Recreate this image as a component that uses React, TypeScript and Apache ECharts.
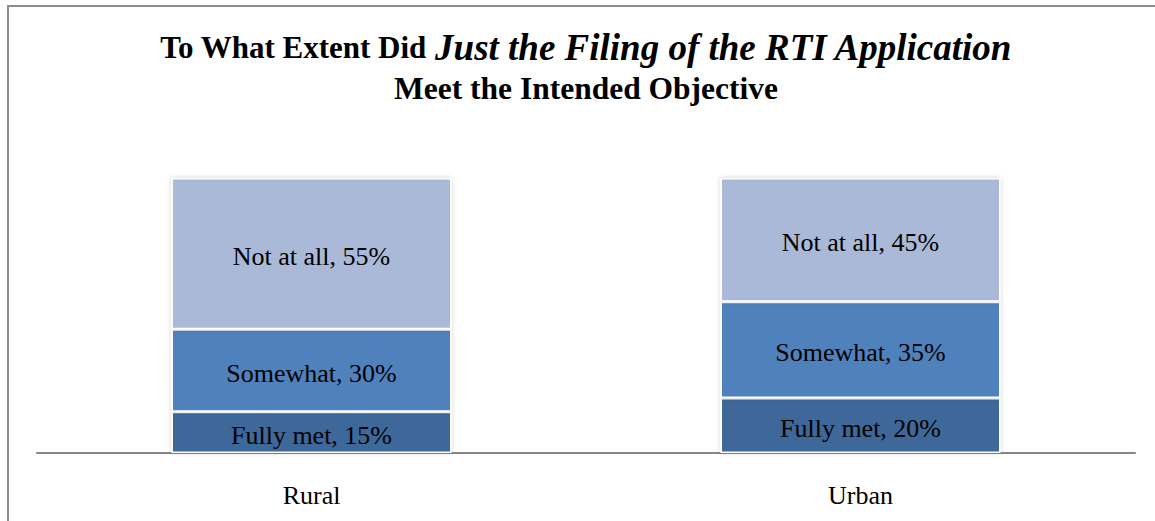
import React, { useEffect, useRef } from "react";
import * as echarts from "echarts";

const categories = ["Rural", "Urban"];
const seriesNames = ["Fully met", "Somewhat", "Not at all"];
const fullyMet = [15, 20];
const somewhat = [30, 35];
const notAtAll = [55, 45];
const seriesColors = ["#3E6899", "#4F81BD", "#AAB9D7"];

const SERIF = "'Times New Roman', 'Liberation Serif', serif";

export default function App() {
  const ref = useRef<HTMLDivElement>(null);
  useEffect(() => {
    if (!ref.current) return;
    const chart = echarts.init(ref.current, undefined, { renderer: "svg" });
    const values = [fullyMet, somewhat, notAtAll];
    chart.setOption({
      animation: false,
      backgroundColor: "#ffffff",
      grid: { left: 37, right: 20, top: 178, bottom: 68 },
      xAxis: {
        type: "category",
        data: categories,
        axisLine: { show: true, lineStyle: { color: "#868686", width: 2 } },
        axisTick: { show: false },
        axisLabel: {
          color: "#000",
          fontFamily: SERIF,
          fontSize: 26,
          margin: 29,
        },
      },
      yAxis: { type: "value", min: 0, max: 100, show: false },
      graphic: [
        {
          type: "line",
          shape: { x1: 8, y1: 6, x2: 1160, y2: 6 },
          style: { stroke: "#8c8c8c", lineWidth: 2 },
        },
        {
          type: "line",
          shape: { x1: 8, y1: 5, x2: 8, y2: 530 },
          style: { stroke: "#8c8c8c", lineWidth: 2 },
        },
        {
          type: "text",
          x: 586,
          y: 66,
          style: {
            text: "{a|To What Extent Did }{b|Just the Filing of the RTI Application}",
            align: "center",
            verticalAlign: "bottom",
            rich: {
              a: { fontFamily: SERIF, fontWeight: "bold", fontSize: 31, fill: "#000", color: "#000" },
              b: { fontFamily: SERIF, fontWeight: "bold", fontStyle: "italic", fontSize: 37, fill: "#000", color: "#000" },
            },
          },
        },
        {
          type: "text",
          x: 586,
          y: 88,
          style: {
            text: "Meet the Intended Objective",
            align: "center",
            verticalAlign: "middle",
            font: "bold 31.5px " + SERIF,
            fill: "#000",
          },
        },
      ],
      series: seriesNames.map((name, i) => ({
        name,
        type: "bar",
        stack: "total",
        barWidth: 280,
        data: values[i],
        itemStyle: {
          color: seriesColors[i],
          borderColor: "#ffffff",
          borderWidth: 1.5,
          shadowColor: "rgba(0,0,0,0.18)",
          shadowBlur: 5,
        },
        label: {
          show: true,
          position: "inside",
          formatter: "{a}, {c}%",
          color: "#000",
          fontFamily: SERIF,
          fontSize: 26,
          offset: [0, 3],
        },
      })),
    });
    return () => chart.dispose();
  }, []);
  return (
    <div
      ref={ref}
      style={{ position: "fixed", left: 0, top: 0, width: 1155, height: 521 }}
    />
  );
}
